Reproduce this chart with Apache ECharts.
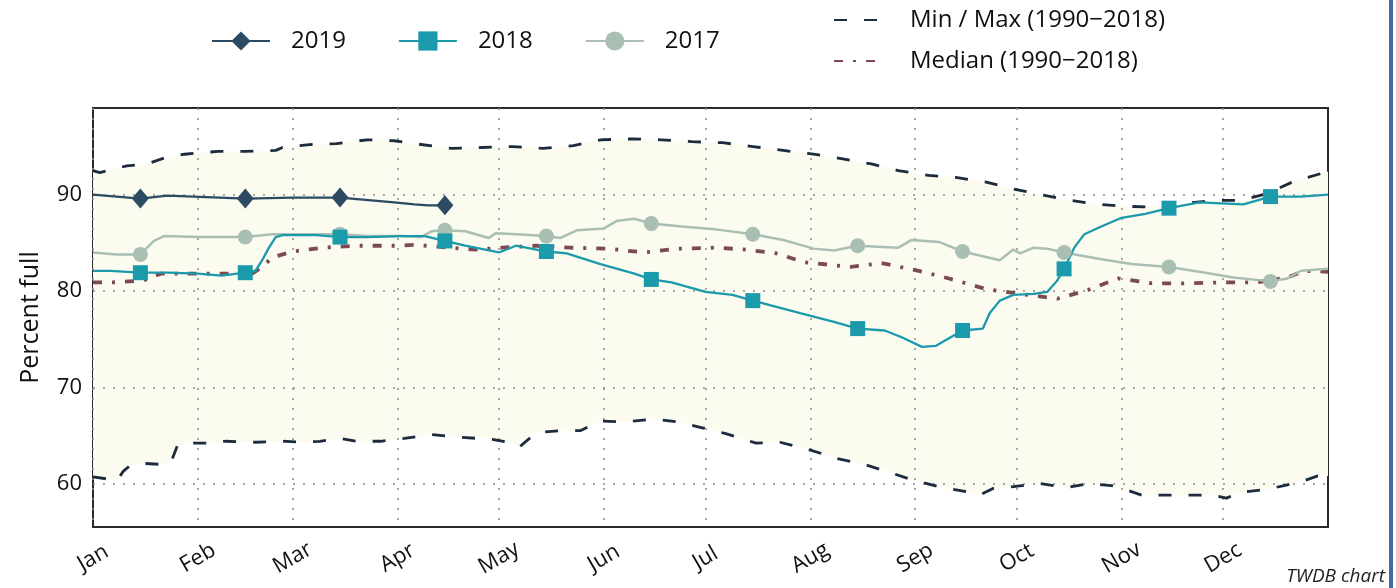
<!DOCTYPE html>
<html><head><meta charset="utf-8">
<script src="https://cdn.jsdelivr.net/npm/echarts@6/dist/echarts.min.js"></script>
<style>html,body{margin:0;padding:0;background:#fff;}#c{width:1396px;height:588px;}</style>
</head><body><div id="c"></div>
<script>
const MONTHS = ['Jan','Feb','Mar','Apr','May','Jun','Jul','Aug','Sep','Oct','Nov','Dec'];
const MONTH_START = [0,31,59,90,120,151,181,212,243,273,304,334];
const MARK_DAYS = [14,45,73,104,134,165,195,226,257,287,318,348];
const Y_TICKS = [60,70,80,90];

const maxLine = [[0,92.5],[2,92.3],[10,93.0],[16,93.2],[21,93.8],[27,94.2],[37,94.5],[45,94.5],[54,94.6],[56,94.9],[64,95.2],[72,95.3],[81,95.7],[89,95.6],[95,95.3],[106,94.8],[115,94.9],[124,95.0],[133,94.8],[142,95.1],[150,95.7],[160,95.8],[168,95.7],[177,95.5],[186,95.4],[195,95.0],[204,94.6],[213,94.2],[222,93.7],[230,93.2],[238,92.5],[247,92.0],[255,91.8],[264,91.3],[272,90.6],[280,90.0],[289,89.4],[297,89.0],[305,88.8],[314,88.7],[323,89.1],[331,89.4],[339,89.4],[347,90.1],[355,91.4],[363,92.2],[365,92.4]];
const minLine = [[0,60.7],[4,60.5],[7,60.3],[9,61.3],[11,61.9],[15,62.1],[20,62.0],[23,62.2],[25,64.0],[29,64.2],[34,64.2],[39,64.4],[48,64.3],[57,64.4],[62,64.3],[67,64.4],[73,64.7],[78,64.4],[85,64.4],[92,64.7],[100,65.1],[109,64.8],[118,64.6],[124,64.2],[126,63.8],[131,65.3],[138,65.5],[144,65.5],[150,66.5],[157,66.4],[166,66.7],[173,66.4],[180,65.8],[187,65.2],[196,64.2],[203,64.3],[211,63.6],[220,62.6],[228,62.0],[236,61.1],[243,60.3],[251,59.6],[259,59.1],[262,58.8],[266,59.5],[272,59.7],[280,60.0],[288,59.6],[294,60.0],[301,59.8],[305,59.4],[310,58.8],[320,58.8],[331,58.8],[335,58.5],[339,59.1],[347,59.4],[352,59.8],[357,60.2],[362,60.8],[365,60.8]];
const median = [[0,80.9],[6,80.9],[15,81.1],[20,81.8],[35,81.8],[47,81.8],[50,82.5],[53,83.5],[59,84.1],[68,84.5],[78,84.7],[90,84.7],[95,84.8],[102,84.6],[113,84.3],[121,84.5],[131,84.7],[141,84.5],[152,84.4],[163,84.0],[173,84.4],[184,84.5],[193,84.3],[202,83.9],[210,83.0],[224,82.5],[233,82.9],[244,82.1],[253,81.3],[264,80.2],[274,79.7],[285,79.2],[294,80.1],[303,81.3],[313,80.8],[324,80.8],[334,80.9],[344,80.9],[353,81.4],[358,82.1],[365,82.0]];
const y2019 = [[0,90.0],[14,89.6],[22,89.9],[45,89.6],[59,89.7],[73,89.7],[89,89.2],[95,89.0],[99,88.9],[104,88.9]];
const y2018 = [[0,82.1],[5,82.1],[14,81.9],[22,81.9],[31,81.8],[38,81.6],[45,81.9],[48,82.1],[50,83.2],[52,84.5],[54,85.6],[56,85.8],[66,85.8],[73,85.6],[81,85.6],[91,85.7],[98,85.7],[104,85.2],[110,84.7],[120,84.0],[125,84.7],[134,84.1],[140,83.9],[150,82.8],[160,81.8],[165,81.2],[171,80.9],[181,79.9],[189,79.6],[195,79.0],[209,77.7],[219,76.8],[226,76.1],[234,75.9],[239,75.2],[245,74.2],[249,74.3],[253,75.1],[257,75.9],[263,76.1],[265,77.7],[268,79.0],[272,79.6],[278,79.7],[282,79.9],[285,81.1],[287,82.3],[290,84.5],[293,85.9],[298,86.7],[304,87.6],[311,88.0],[318,88.6],[327,89.2],[340,89.0],[348,89.8],[357,89.8],[365,90.0]];
const y2017 = [[0,84.0],[7,83.8],[14,83.8],[18,85.2],[21,85.7],[31,85.6],[45,85.6],[53,85.9],[70,85.9],[73,85.9],[81,85.7],[91,85.7],[97,85.6],[100,86.2],[104,86.3],[110,86.2],[117,85.5],[119,86.0],[125,85.9],[134,85.7],[138,85.5],[143,86.3],[151,86.5],[155,87.3],[160,87.5],[165,87.0],[174,86.7],[184,86.4],[195,85.9],[204,85.3],[213,84.4],[219,84.2],[226,84.7],[238,84.5],[242,85.3],[250,85.1],[257,84.1],[268,83.2],[272,84.3],[274,83.9],[278,84.5],[282,84.4],[287,84.0],[298,83.3],[307,82.8],[318,82.5],[327,82.0],[337,81.4],[348,81.0],[353,81.3],[357,82.1],[365,82.3]];

const FONT = 'Open Sans';
const MINMAX = 'Min / Max (1990\u22122018)';
const MEDIAN = 'Median (1990\u22122018)';

function marked(arr){
  return arr.map(p => MARK_DAYS.includes(p[0]) ? {value:p} : {value:p, symbol:'none'});
}

const chart = echarts.init(document.getElementById('c'), null, {renderer:'canvas'});
const dashStyle = {color:'#1c2b3d', width:2.8, type:[13,17]};
chart.setOption({
  animation:false,
  textStyle:{fontFamily:FONT},
  grid:{left:93, right:68, top:108, bottom:61, show:true, borderColor:'#2a2a2a', borderWidth:2, backgroundColor:'transparent'},
  legend:[
    {data:['2019','2018','2017'], left:206, top:24, itemWidth:58, itemHeight:24, itemGap:52,
     textStyle:{fontSize:24, color:'#111', fontFamily:FONT, padding:[0,0,0,16]}},
    {data:[MINMAX, MEDIAN], orient:'vertical', left:828, top:3, itemWidth:47, itemHeight:22, itemGap:17,
     itemStyle:{opacity:0},
     textStyle:{fontSize:24, color:'#111', fontFamily:FONT, padding:[0,0,0,24]}}
  ],
  xAxis:{type:'value', min:0, max:365, z:1.5,
    axisLine:{show:false}, axisTick:{show:false, customValues:MONTH_START},
    axisLabel:{customValues:MONTH_START, formatter:v=>MONTHS[MONTH_START.indexOf(v)], rotate:30, align:'center', verticalAlign:'middle', margin:31, fontSize:22, color:'#111', fontFamily:FONT},
    splitLine:{show:true, lineStyle:{color:'#8c8c8c', width:1.5, type:[2,8]}}},
  yAxis:{type:'value', min:55.5, max:99, z:1.5,
    name:'Percent full', nameLocation:'middle', nameGap:50, nameTextStyle:{fontSize:25, color:'#111', fontFamily:FONT},
    axisLine:{show:false}, axisTick:{show:false, customValues:Y_TICKS},
    axisLabel:{customValues:Y_TICKS, margin:11, fontSize:22, color:'#111', fontFamily:FONT},
    splitLine:{show:true, lineStyle:{color:'#8c8c8c', width:1.5, type:[2,8]}}},
  graphic:[
    {type:'text', right:11, bottom:2, style:{text:'TWDB chart', font:'italic 19px "Open Sans"', fill:'#222'}},
    {type:'rect', left:1389, top:0, shape:{width:4, height:588}, style:{fill:'#3d6d9c'}}
  ],
  series:[
    {type:'custom', name:'band', z:1, silent:true, data:[[0,60]], encode:{x:0,y:1},
     renderItem:(params, api)=>{
       const pts = maxLine.map(p=>api.coord(p)).concat(minLine.slice().reverse().map(p=>api.coord(p)));
       return {type:'polygon', shape:{points:pts}, style:{fill:'#fbfbf0'}};
     }},
    {type:'line', name:MINMAX, data:maxLine, symbol:'none', lineStyle:dashStyle, itemStyle:{color:'#1c2b3d'}},
    {type:'line', name:MINMAX, data:minLine, symbol:'none', lineStyle:dashStyle, itemStyle:{color:'#1c2b3d'}},
    {type:'line', name:MEDIAN, data:median, symbol:'none', lineStyle:{color:'#7b4a54', width:3.8, type:[9,10,3,10]}, itemStyle:{color:'#7b4a54'}},
    {type:'line', name:'2017', data:marked(y2017), symbol:'circle', symbolSize:15, showAllSymbol:true,
     lineStyle:{color:'#a9bfb3', width:2.5}, itemStyle:{color:'#a9bfb3'}},
    {type:'line', name:'2018', data:marked(y2018), symbol:'rect', symbolSize:15, showAllSymbol:true,
     lineStyle:{color:'#1b9aab', width:2.3}, itemStyle:{color:'#1b9aab'}},
    {type:'line', name:'2019', data:marked(y2019), symbol:'diamond', symbolSize:[17,20], showAllSymbol:true,
     lineStyle:{color:'#2c4a62', width:2.3}, itemStyle:{color:'#2c4a62'}}
  ]
});
</script></body></html>
